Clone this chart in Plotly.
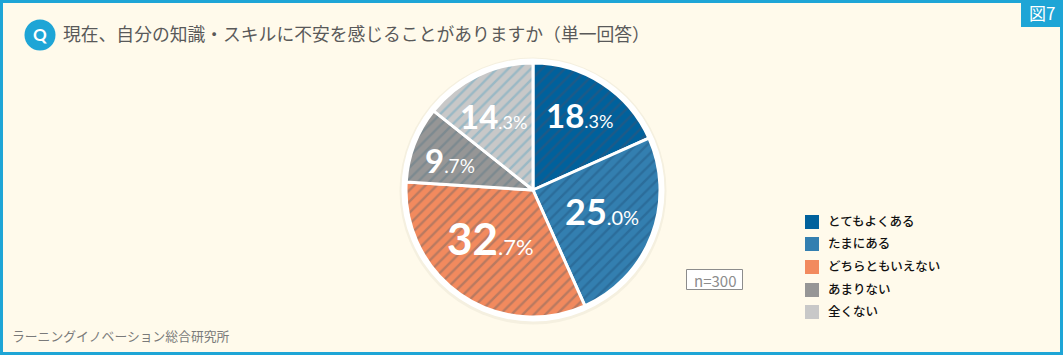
import math
import plotly.graph_objects as go

W, H = 1063, 355
categories = ["とてもよくある", "たまにある", "どちらともいえない", "あまりない", "全くない"]
values = [18.3, 25.0, 32.7, 9.7, 14.3]
colors = ["#00619c", "#337fb0", "#f28a5e", "#969696", "#c8c8c8"]
stripes = ["#1d5a88", "#2b6d9b", "#b97a60", "#7d8a90", "#9ab9c5"]
big_sizes = [33, 36, 44, 33, 33]
small_sizes = [18, 20, 22, 19, 18]
label_radii = [88, 72, 64, 88, 84]
label_turns = [-1, -4, 7, -1, -2]
title = "現在、自分の知識・スキルに不安を感じることがありますか（単一回答）"
source = "ラーニングイノベーション総合研究所"
figure_tag = "図7"
sample = "n=300"
legend_ys = [222, 244, 267, 290, 312]

def px(x): return x / W
def py(y): return 1 - y / H

def box(x0, y0, x1, y1, **kw):
    return dict(type="rect", xref="paper", yref="paper", x0=px(x0), x1=px(x1), y0=py(y1), y1=py(y0), layer="below", **kw)

def disc(cx, cy, r, color, layer="below"):
    return dict(type="circle", xref="paper", yref="paper", x0=px(cx-r), x1=px(cx+r), y0=py(cy+r), y1=py(cy-r),
                fillcolor=color, line=dict(width=0), layer=layer)

def label(v, big, small):
    whole, frac = f"{v:.1f}".split(".")
    return f'<span style="font-size:{big}px;font-weight:bold">{whole}</span><span style="font-size:{small}px">.{frac}%</span>'

CX, CY, R = 533, 190, 127
fig = go.Figure(go.Pie(
    labels=categories, values=values, sort=False, direction="clockwise", rotation=0,
    domain=dict(x=[px(CX-R), px(CX+R)], y=[py(CY+R), py(CY-R)]),
    marker=dict(colors=colors, line=dict(color="#ffffff", width=3),
                pattern=dict(shape="/", fgcolor=stripes, bgcolor=colors, size=8, solidity=0.3, fillmode="replace")),
    textinfo="none", hoverinfo="label+percent", showlegend=False,
))

shapes = [
    box(1.5, 1.5, W-1.5, H-1.5, fillcolor="#fffaeb", line=dict(color="#1ea5d6", width=3)),
    box(1021, 0, W, 27, fillcolor="#1ea5d6", line=dict(width=0)),
    disc(40, 35, 15.5, "#1ea5d6"),
    disc(CX, CY+1, 133.5, "rgba(90,80,50,0.06)"),
    disc(CX, CY, 131.5, "#ffffff"),
    box(686.5, 269.5, 742.5, 289.5, fillcolor="#ffffff", line=dict(color="#8c8c8c", width=1)),
]
annotations = [
    dict(text="Q", x=px(40), y=py(35), font=dict(family="Lato", size=17, color="#ffffff", weight="bold")),
    dict(text=title, x=px(63), y=py(33), xanchor="left", font=dict(family="Noto Sans CJK JP", size=17.8, color="#595959")),
    dict(text=figure_tag, x=px(1042), y=py(13), font=dict(family="Noto Sans CJK JP", size=17, color="#ffffff")),
    dict(text=source, x=px(12), y=py(335), xanchor="left", font=dict(family="Noto Sans CJK JP", size=12.8, color="#7a7a7a")),
    dict(text=sample, x=px(715), y=py(280), font=dict(family="Noto Sans CJK JP", size=15, color="#8c8c8c")),
]
for name, color, y in zip(categories, colors, legend_ys):
    shapes.append(box(805, y-7, 819, y+7, fillcolor=color, line=dict(width=0)))
    annotations.append(dict(text=name, x=px(828), y=py(y-1.5), xanchor="left",
                            font=dict(family="Noto Sans CJK JP", size=12.5, color="#111111", weight=500)))

cum = 0
total = sum(values)
for v, b, s, r, t in zip(values, big_sizes, small_sizes, label_radii, label_turns):
    mid = 2 * math.pi * (cum + v / 2) / total + math.radians(t)
    cum += v
    annotations.append(dict(text=label(v, b, s), x=px(CX + r * math.sin(mid)), y=py(CY - r * math.cos(mid)),
                            font=dict(family="Lato", color="#ffffff", size=20)))
for a in annotations:
    a.update(xref="paper", yref="paper", showarrow=False, borderpad=0, borderwidth=0)
    a.setdefault("xanchor", "center")
    a.setdefault("yanchor", "middle")

fig.update_layout(width=W, height=H, margin=dict(l=0, r=0, t=0, b=0), paper_bgcolor="#fffaeb",
                  shapes=shapes, annotations=annotations, showlegend=False)
fig.write_html("out.html", config=dict(displayModeBar=False),
               post_script="document.body.style.margin='0';document.body.style.overflow='hidden';")
